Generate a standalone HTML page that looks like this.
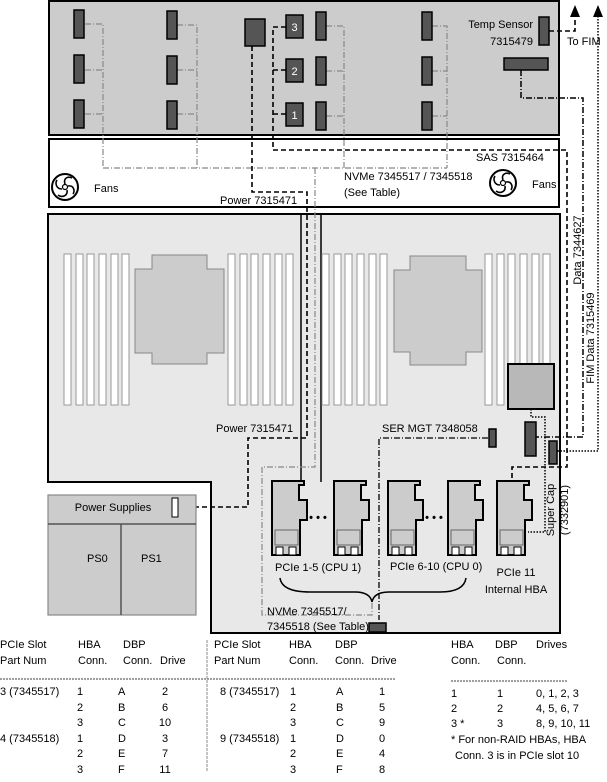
<!DOCTYPE html>
<html><head><meta charset="utf-8"><style>
html,body{margin:0;padding:0;background:#fff;}
svg{display:block;}
text{font-family:"Liberation Sans Narrow","Liberation Sans",sans-serif;font-size:11px;fill:#000;}
</style></head><body>
<svg width="607" height="782" viewBox="0 0 607 782" xmlns="http://www.w3.org/2000/svg">
<defs>
<g id="card">
<polygon points="0,0 32,0 32,4 27,4 27,19 35,19 35,39 28,39 28,74 0,74" fill="#ccc" stroke="#000" stroke-width="2"/>
<rect x="3" y="49" width="23" height="15" fill="#ccc" stroke="#666" stroke-width="1"/>
<rect x="4" y="66" width="7" height="8" fill="#fff" stroke="#000" stroke-width="1"/>
<rect x="17" y="66" width="7" height="8" fill="#fff" stroke="#000" stroke-width="1"/>
</g>
<g id="fan">
<circle cx="0" cy="0" r="13" fill="#fff" stroke="#000" stroke-width="2"/>
<path d="M0,-3 C-2,-9 3,-11 7,-9 M3,-1 C9,-2 10,4 8,7 M2,3 C3,9 -3,11 -7,8 M-3,2 C-9,2 -10,-4 -8,-7 M-2,-2" fill="none" stroke="#000" stroke-width="1.6"/>
<circle cx="0" cy="0" r="2.5" fill="none" stroke="#000" stroke-width="1.2"/>
</g>
<g id="conn"><rect x="0" y="0" width="10" height="28" fill="#555" stroke="#000" stroke-width="1.5"/></g>
<g id="dimm"><rect x="0" y="0" width="7" height="151" fill="#fff" stroke="#999" stroke-width="1"/></g>
</defs>

<!-- Top drive bay -->
<rect x="49" y="1" width="510" height="134" fill="#ccc" stroke="#000" stroke-width="2"/>
<!-- Fan box -->
<rect x="49" y="139" width="510" height="68" fill="#fff" stroke="#000" stroke-width="2"/>
<!-- Mainboard -->
<path d="M48,214 H560 V633 H211 V482 H48 Z" fill="#e8e8e8" stroke="#000" stroke-width="2"/>
<line x1="301" y1="214" x2="301" y2="482" stroke="#000" stroke-width="1.5"/>
<line x1="321" y1="214" x2="321" y2="482" stroke="#000" stroke-width="1.5"/>

<!-- DIMMs -->
<g>
<use href="#dimm" x="64" y="254"/><use href="#dimm" x="76" y="254"/><use href="#dimm" x="87" y="254"/><use href="#dimm" x="99" y="254"/><use href="#dimm" x="111" y="254"/><use href="#dimm" x="122" y="254"/>
<use href="#dimm" x="228" y="254"/><use href="#dimm" x="240" y="254"/><use href="#dimm" x="251" y="254"/><use href="#dimm" x="263" y="254"/><use href="#dimm" x="275" y="254"/><use href="#dimm" x="286" y="254"/>
<use href="#dimm" x="322" y="254"/><use href="#dimm" x="334" y="254"/><use href="#dimm" x="345" y="254"/><use href="#dimm" x="357" y="254"/><use href="#dimm" x="369" y="254"/><use href="#dimm" x="380" y="254"/>
<use href="#dimm" x="485" y="254"/><use href="#dimm" x="497" y="254"/><use href="#dimm" x="508" y="254"/><use href="#dimm" x="520" y="254"/><use href="#dimm" x="532" y="254"/><use href="#dimm" x="543" y="254"/>
</g>
<!-- CPUs -->
<path d="M152,255 H207 V269 H224 V353 H207 V364 H152 V353 H135 V269 H152 Z" fill="#ccc" stroke="#888" stroke-width="1"/>
<path d="M410,256 H466 V270 H482 V352 H466 V365 H410 V352 H394 V270 H410 Z" fill="#ccc" stroke="#888" stroke-width="1"/>
<!-- HBA chip -->
<rect x="508" y="364" width="46" height="45" fill="#b8b8b8" stroke="#000" stroke-width="2"/>

<!-- Gray NVMe dash-dot lines -->
<g fill="none" stroke="#888" stroke-width="1.2" stroke-dasharray="6,2,1,2">
<path d="M85,24 H103 V168 M85,70 H103 M85,114 H103"/>
<path d="M177,25 H197 V168 M177,70 H197 M177,114 H197"/>
<path d="M326,26 H344 V168 M326,71 H344 M326,116 H344"/>
<path d="M432,26 H447 V168 M432,71 H447 M432,116 H447"/>
<path d="M103,168 H447"/>
<path d="M315,168 V467 H262 V615 H372 V598"/>
</g>

<!-- drive connectors -->
<use href="#conn" x="74" y="10"/><use href="#conn" x="74" y="55"/><use href="#conn" x="74" y="100"/>
<use href="#conn" x="167" y="11"/><use href="#conn" x="167" y="56"/><use href="#conn" x="167" y="101"/>
<use href="#conn" x="316" y="12"/><use href="#conn" x="316" y="57"/><use href="#conn" x="316" y="102"/>
<use href="#conn" x="422" y="12"/><use href="#conn" x="422" y="57"/><use href="#conn" x="422" y="102"/>
<rect x="245" y="19" width="20" height="27" fill="#555" stroke="#000" stroke-width="1.5"/>
<rect x="286" y="15" width="17" height="23" fill="#555" stroke="#000" stroke-width="1.5"/>
<rect x="286" y="59" width="17" height="23" fill="#555" stroke="#000" stroke-width="1.5"/>
<rect x="286" y="103" width="17" height="23" fill="#555" stroke="#000" stroke-width="1.5"/>
<text x="294.5" y="31" text-anchor="middle" style="fill:#fff">3</text>
<text x="294.5" y="75" text-anchor="middle" style="fill:#fff">2</text>
<text x="294.5" y="119" text-anchor="middle" style="fill:#fff">1</text>
<rect x="539" y="17" width="10" height="28" fill="#555" stroke="#000" stroke-width="1.5"/>
<rect x="504" y="58" width="44" height="12" fill="#555" stroke="#000" stroke-width="1.5"/>

<!-- SAS dashed -->
<path d="M286,27 H273 V150 H567 V467 H512 V481 M286,70 H273 M286,114 H273" fill="none" stroke="#000" stroke-width="1.6" stroke-dasharray="5,3"/>
<!-- Power dashed -->
<path d="M252,46 V192 H307 V438 H248 V507 H178" fill="none" stroke="#000" stroke-width="1.6" stroke-dasharray="5,3"/>
<!-- temp sensor to FIM -->
<path d="M549,31 H575 V16" fill="none" stroke="#000" stroke-width="1.6" stroke-dasharray="5,3"/>
<!-- bar data dash-dot -->
<path d="M521,70 V98 H583 V437 H536" fill="none" stroke="#000" stroke-width="1.5" stroke-dasharray="6,2,1,2"/>
<!-- FIM dotted -->
<path d="M598,16 V451 H557" fill="none" stroke="#000" stroke-width="1.5" stroke-dasharray="1.5,1.5"/>
<!-- super cap dotted -->
<path d="M531,409 V417 H545 V532 H528" fill="none" stroke="#000" stroke-width="1.5" stroke-dasharray="1.5,1.5"/>
<!-- SER MGT dash-dot -->
<path d="M488,438 H379 V620" fill="none" stroke="#000" stroke-width="1.3" stroke-dasharray="6,2,1,2"/>

<!-- arrows -->
<polygon points="575,5 570,17 580,17" fill="#000"/>
<polygon points="598,5 593,17 603,17" fill="#000"/>

<!-- connectors on board -->
<rect x="489" y="429" width="7" height="18" fill="#555" stroke="#000" stroke-width="1.5"/>
<rect x="525" y="422" width="11" height="34" fill="#555" stroke="#000" stroke-width="1.5"/>
<rect x="549" y="441" width="8" height="23" fill="#555" stroke="#000" stroke-width="1.5"/>
<rect x="369" y="623" width="17" height="9" fill="#555" stroke="#000" stroke-width="1.5"/>

<!-- PCIe cards -->
<use href="#card" x="272" y="481"/>
<use href="#card" x="334" y="481"/>
<use href="#card" x="388" y="481"/>
<use href="#card" x="448" y="481"/>
<use href="#card" x="497" y="481"/>
<text x="318" y="521" text-anchor="middle" style="font-weight:bold">• • •</text>
<text x="434" y="521" text-anchor="middle" style="font-weight:bold">• • •</text>

<!-- brace -->
<path d="M280,578 Q282,592 310,592 H355 Q370,592 372,602 Q374,592 389,592 H440 Q464,592 466,578" fill="none" stroke="#000" stroke-width="1.5"/>

<!-- Power supplies -->
<rect x="48" y="495" width="148" height="120" fill="#ccc" stroke="#888" stroke-width="1.2"/>
<line x1="48" y1="524" x2="196" y2="524" stroke="#555" stroke-width="1.5"/>
<line x1="121" y1="524" x2="121" y2="615" stroke="#555" stroke-width="1.5"/>
<rect x="172" y="498" width="6" height="19" fill="#fff" stroke="#000" stroke-width="1"/>

<!-- fans -->
<use href="#fan" x="65" y="187"/>
<use href="#fan" x="503" y="183"/>

<!-- labels -->
<text x="533" y="28" text-anchor="end">Temp Sensor</text>
<text x="533" y="45" text-anchor="end">7315479</text>
<text x="567" y="45">To FIM</text>
<text x="94" y="192">Fans</text>
<text x="532" y="188">Fans</text>
<text x="476" y="161">SAS 7315464</text>
<text x="344" y="180">NVMe 7345517 / 7345518</text>
<text x="344" y="196">(See Table)</text>
<text x="220" y="204">Power 7315471</text>
<text x="216" y="432">Power 7315471</text>
<text x="382" y="432">SER MGT 7348058</text>
<text x="113" y="511" text-anchor="middle">Power Supplies</text>
<text x="87" y="562">PS0</text>
<text x="141" y="562">PS1</text>
<text x="275" y="571">PCIe 1-5 (CPU 1)</text>
<text x="390" y="570">PCIe 6-10 (CPU 0)</text>
<text x="516" y="576" text-anchor="middle">PCIe 11</text>
<text x="516" y="593" text-anchor="middle">Internal HBA</text>
<text x="267" y="615">NVMe 7345517/</text>
<text x="267" y="630">7345518 (See Table)</text>
<text transform="translate(581,250) rotate(-90)" text-anchor="middle">Data 7344627</text>
<text transform="translate(594,338) rotate(-90)" text-anchor="middle">FIM Data 7315469</text>
<text transform="translate(554,510) rotate(-90)" text-anchor="middle">Super Cap</text>
<text transform="translate(568,510) rotate(-90)" text-anchor="middle">(7332901)</text>

<!-- tables -->
<g>
<text x="0" y="648">PCIe Slot</text><text x="0" y="664">Part Num</text>
<text x="78" y="648">HBA</text><text x="78" y="664">Conn.</text>
<text x="123" y="648">DBP</text><text x="123" y="664">Conn.</text><text x="160" y="664">Drive</text>
<text x="214" y="648">PCIe Slot</text><text x="214" y="664">Part Num</text>
<text x="289" y="648">HBA</text><text x="289" y="664">Conn.</text>
<text x="335" y="648">DBP</text><text x="335" y="664">Conn.</text><text x="371" y="664">Drive</text>
<line x1="0" y1="679" x2="395" y2="679" stroke="#000" stroke-width="0.8" stroke-dasharray="2,1"/>
<line x1="207" y1="640" x2="207" y2="772" stroke="#888" stroke-width="1" stroke-dasharray="3,1"/>

<text x="0" y="695">3 (7345517)</text><text x="77" y="695">1</text><text x="118" y="695">A</text><text x="165" y="695" text-anchor="middle">2</text>
<text x="77" y="711">2</text><text x="118" y="711">B</text><text x="165" y="711" text-anchor="middle">6</text>
<text x="77" y="726">3</text><text x="118" y="726">C</text><text x="165" y="726" text-anchor="middle">10</text>
<text x="0" y="742">4 (7345518)</text><text x="77" y="742">1</text><text x="118" y="742">D</text><text x="165" y="742" text-anchor="middle">3</text>
<text x="77" y="757">2</text><text x="118" y="757">E</text><text x="165" y="757" text-anchor="middle">7</text>
<text x="77" y="773">3</text><text x="118" y="773">F</text><text x="165" y="773" text-anchor="middle">11</text>

<text x="220" y="695">8 (7345517)</text><text x="290" y="695">1</text><text x="336" y="695">A</text><text x="382" y="695" text-anchor="middle">1</text>
<text x="290" y="711">2</text><text x="336" y="711">B</text><text x="382" y="711" text-anchor="middle">5</text>
<text x="290" y="726">3</text><text x="336" y="726">C</text><text x="382" y="726" text-anchor="middle">9</text>
<text x="220" y="742">9 (7345518)</text><text x="290" y="742">1</text><text x="336" y="742">D</text><text x="382" y="742" text-anchor="middle">0</text>
<text x="290" y="757">2</text><text x="336" y="757">E</text><text x="382" y="757" text-anchor="middle">4</text>
<text x="290" y="773">3</text><text x="336" y="773">F</text><text x="382" y="773" text-anchor="middle">8</text>

<text x="451" y="648">HBA</text><text x="451" y="664">Conn.</text>
<text x="495" y="648">DBP</text><text x="497" y="664">Conn.</text>
<text x="536" y="648">Drives</text>
<line x1="451" y1="681" x2="568" y2="681" stroke="#000" stroke-width="0.8" stroke-dasharray="2,1"/>
<text x="451" y="697">1</text><text x="497" y="697">1</text><text x="536" y="697">0, 1, 2, 3</text>
<text x="451" y="712">2</text><text x="497" y="712">2</text><text x="536" y="712">4, 5, 6, 7</text>
<text x="451" y="727">3 *</text><text x="497" y="727">3</text><text x="536" y="727">8, 9, 10, 11</text>
<text x="451" y="743">* For non-RAID HBAs, HBA</text>
<text x="455" y="759">Conn. 3 is in PCIe slot 10</text>
</g>
</svg>
</body></html>
